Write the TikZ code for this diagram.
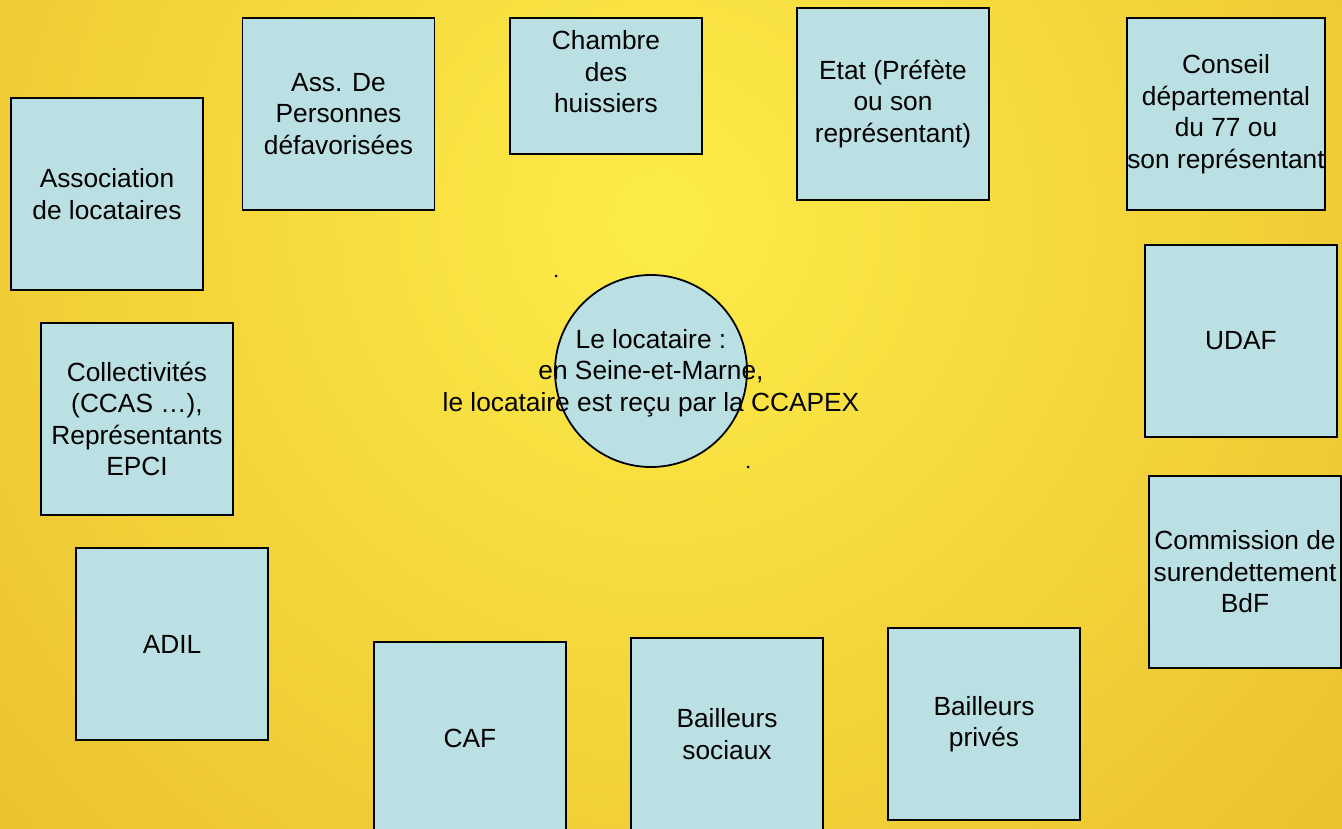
\documentclass[tikz,border=0pt]{standalone}
\usepackage{fontspec}
\setmainfont{Liberation Sans}
\definecolor{boxfill}{HTML}{BBE0E3}
\definecolor{bgin}{HTML}{FDEC48}
\definecolor{bgout}{HTML}{E3AF25}
\begin{document}
\begin{tikzpicture}[x=1pt,y=-1pt,
  txt/.style={font=\fontsize{26.3}{31.5}\selectfont, align=center, inner sep=0pt, text=black},
  box/.style={draw=black, line width=1.8pt, fill=boxfill, minimum width=192pt, minimum height=192pt, inner sep=0pt, txt}]
\useasboundingbox (0,0) rectangle (1342,829);
\begin{scope}
\clip (0,0) rectangle (1342,829);
\fill[bgout] (0,0) rectangle (1342,829);
\shade[inner color=bgin, outer color=bgout] (660,220) circle (1300);
\end{scope}
% boxes
\node[box] (asloc) at (107,194) {Association\\de locataires};
\node[box] (asspers) at (338.5,114) {Ass. De\\Personnes\\défavorisées};
\node[box, minimum height=136pt] (chambre) at (606,86) {};
\node[txt] (chambretxt) at (606,72) {Chambre\\des\\huissiers};
\node[box] (etat) at (893,104) {Etat (Préfète\\ou son\\représentant)};
\node[box] (conseil) at (1226,114) {Conseil\\départemental\\du 77 ou\\son représentant};
\node[box] (udaf) at (1241,341) {UDAF};
\node[box] (commission) at (1245,572) {Commission de\\surendettement\\BdF};
\node[box] (collect) at (137,419) {Collectivités\\(CCAS …),\\Représentants\\EPCI};
\node[box] (adil) at (172,644) {ADIL};
\node[box] (caf) at (470,738) {CAF};
\node[box] (bsoc) at (727,734) {Bailleurs\\sociaux};
\node[box] (bpriv) at (984,724) {Bailleurs\\privés};
% centre
\node[circle, draw=black, line width=1.8pt, fill=boxfill, minimum size=192pt, inner sep=0pt] (loc) at (651,371) {};
\node[txt] (loctxt) at (651,373) {Le locataire :\\en Seine-et-Marne,\\le locataire est reçu par la CCAPEX};
\fill[black] (556,276) circle (1.5pt);
\fill[black] (748,467) circle (1.5pt);
\end{tikzpicture}
\end{document}
